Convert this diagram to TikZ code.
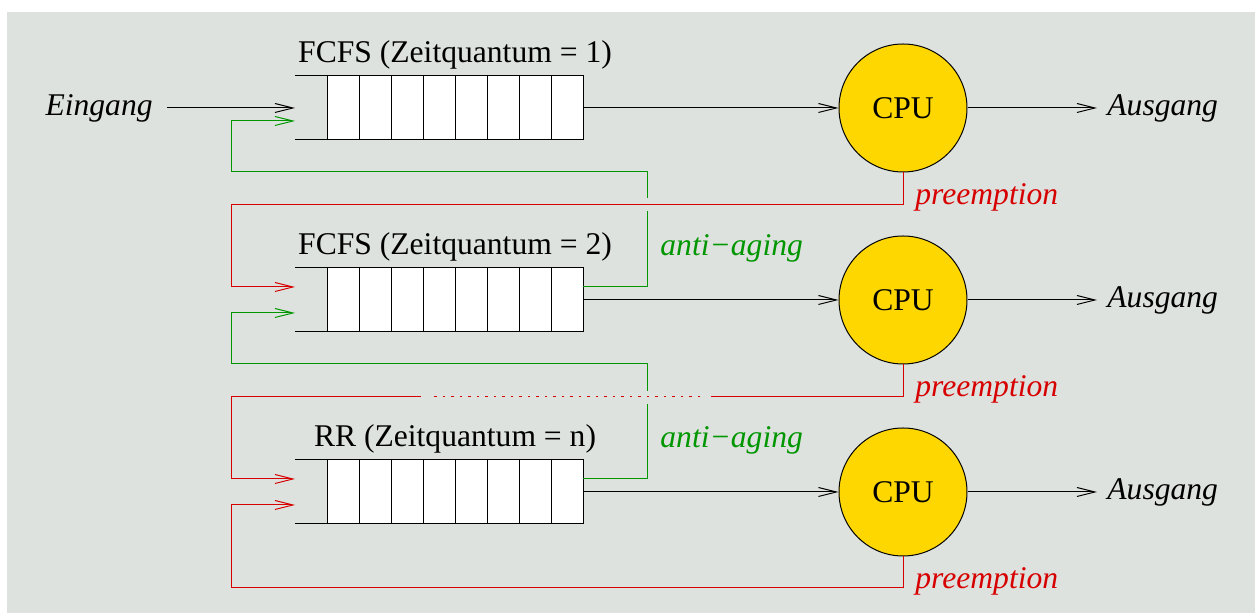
\documentclass[tikz,border=0pt]{standalone}
\usepackage{fontspec}
\setmainfont{Liberation Serif}
\usetikzlibrary{arrows.meta}
\definecolor{bgc}{RGB}{222,226,222}
\definecolor{cpuc}{RGB}{255,215,0}
\definecolor{xgreen}{RGB}{0,150,0}
\definecolor{xred}{RGB}{215,0,0}
\tikzset{
  txt/.style={font=\fontsize{15.8pt}{19pt}\selectfont, inner sep=0pt},
  ln/.style={line width=0.5pt},
  arr/.style={ln, -{Straight Barb[length=9pt,width=4.5pt]}},
  qnode/.style={minimum width=144pt, minimum height=32pt, inner sep=0pt, outer sep=0pt},
  cell/.style={ln, fill=white},
  cpu/.style={circle, draw, ln, fill=cpuc, minimum size=64pt, inner sep=0pt, font=\fontsize{15.8pt}{19pt}\selectfont},
  grn/.style={ln, draw=xgreen},
  rd/.style={ln, draw=xred},
  gtxt/.style={txt, text=xgreen, font=\fontsize{15.8pt}{19pt}\selectfont\itshape},
  rtxt/.style={txt, text=xred, font=\fontsize{15.8pt}{19pt}\selectfont\itshape},
}
\begin{document}
\begin{tikzpicture}[x=0.5pt, y=-0.5pt]
\useasboundingbox (0,0) rectangle (1255,613);
\fill[bgc] (7,12) rectangle (1255,613);

\foreach \r/\yy/\lbl in {1/108/{FCFS (Zeitquantum = 1)},2/300/{FCFS (Zeitquantum = 2)},3/492/{RR (Zeitquantum = n)}} {
  \node[qnode] (q\r) at (439,\yy) {};
  \draw[ln] (q\r.north west) -- (q\r.north east) (q\r.south west) -- (q\r.south east);
  \foreach \i in {0,...,7} \draw[cell] (327+32*\i,\yy-32) rectangle ++(32,64);
  \node[txt, anchor=base] (ql\r) at (455,\yy-45) {\lbl};
  \node[cpu] (cpu\r) at (903,\yy) {CPU};
  \node[txt, anchor=west, inner xsep=5pt, font=\fontsize{15.8pt}{19pt}\selectfont\itshape] (out\r) at (1097,\yy) {Ausgang};
  \draw[arr] (q\r.east) -- (cpu\r.west);
  \draw[arr] (cpu\r.east) -- (out\r.west);
  \node[rtxt, anchor=base west] (pl\r) at (915,\yy+97) {preemption};
}

\node[txt, anchor=east, inner xsep=7pt, font=\fontsize{15.8pt}{19pt}\selectfont\itshape] (in) at (167,108) {Eingang};
\draw[arr] (in.east) -- (q1.west);

\node[gtxt, anchor=base west] (ag1) at (660,256) {anti−aging};
\node[gtxt, anchor=base west] (ag2) at (660,448) {anti−aging};

% corner / gap coordinates
\coordinate (g1a) at (647,211);
\coordinate (g1b) at (647,198);
\coordinate (g2a) at (647,404);
\coordinate (g2b) at (647,391);
\coordinate (d1) at (711,397);
\coordinate (d2) at (700,397);
\coordinate (d3) at (429,397);
\coordinate (d4) at (421,397);

% green anti-aging loops
\draw[grn] ([yshift=6.5pt]q2.east) -| (g1a);
\draw[grn, arr, draw=xgreen] (g1b) -- (647,172) -- (231,172) -- (231,121) -- ([yshift=-6.5pt]q1.west);
\draw[grn] ([yshift=6.5pt]q3.east) -| (g2a);
\draw[grn, arr, draw=xgreen] (g2b) -- (647,364) -- (231,364) -- (231,313) -- ([yshift=-6.5pt]q2.west);

% red preemption loops
\draw[rd, arr, draw=xred] (cpu1.south) -- (903,205) -- (231,205) -- (231,287) -- ([yshift=6.5pt]q2.west);
\draw[rd] (cpu2.south) -- (903,397) -- (d1);
\draw[rd, dash pattern=on 1.2pt off 3.05pt] (d2) -- (d3);
\draw[rd, arr, draw=xred] (d4) -- (231,397) -- (231,479) -- ([yshift=6.5pt]q3.west);
\draw[rd, arr, draw=xred] (cpu3.south) -- (903,588) -- (231,588) -- (231,505) -- ([yshift=-6.5pt]q3.west);
\end{tikzpicture}
\end{document}
